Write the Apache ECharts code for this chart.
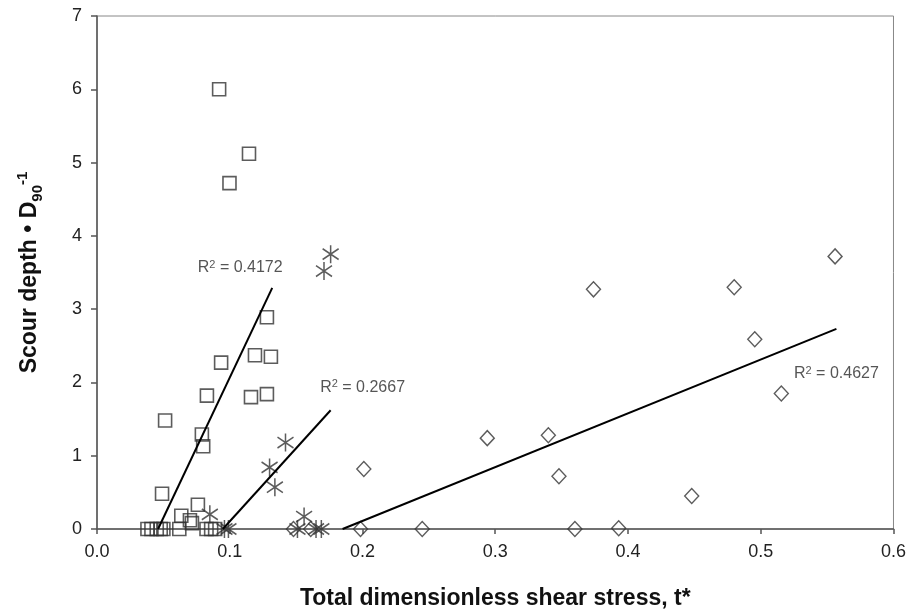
<!DOCTYPE html>
<html><head><meta charset="utf-8">
<script src="https://cdn.jsdelivr.net/npm/echarts@6/dist/echarts.min.js"></script>
<style>html,body{margin:0;padding:0;background:#fff}#c{width:909px;height:615px}</style>
</head><body><div id="c"></div>
<script>
// Squares group
const squaresX = [0.092,0.1145,0.0998,0.128,0.119,0.131,0.0935,0.0828,0.116,0.128,0.0513,0.079,0.080,0.049,0.076,0.0635,0.070,0.0715,0.038,0.041,0.045,0.048,0.050,0.062,0.0825,0.086,0.089];
const squaresY = [6.00,5.12,4.72,2.89,2.37,2.35,2.27,1.82,1.80,1.84,1.48,1.29,1.13,0.48,0.33,0.18,0.12,0.08,0,0,0,0,0,0,0,0,0];
// Asterisk group
const starsX = [0.085,0.096,0.099,0.130,0.134,0.142,0.171,0.176,0.156,0.151,0.165,0.169];
const starsY = [0.20,0,0,0.84,0.57,1.18,3.52,3.75,0.17,0,0,0];
// Diamond group
const diamondsX = [0.148,0.161,0.1985,0.201,0.245,0.294,0.340,0.348,0.360,0.374,0.393,0.448,0.480,0.4955,0.5155,0.556];
const diamondsY = [0,0,0,0.82,0,1.24,1.28,0.72,0,3.27,0.01,0.45,3.30,2.59,1.85,3.72];
// Trend lines (endpoints)
const trend1X = [0.046,0.132], trend1Y = [0,3.29];
const trend2X = [0.0948,0.176], trend2Y = [0,1.62];
const trend3X = [0.185,0.557], trend3Y = [0,2.73];
const r2Labels = ['R{sup|2} = 0.4172','R{sup|2} = 0.2667','R{sup|2} = 0.4627'];
const xTicks = [0,0.1,0.2,0.3,0.4,0.5,0.6];
const yTicks = [0,1,2,3,4,5,6,7];

const zip = (a,b)=>a.map((v,i)=>[v,b[i]]);
const ink = '#333';
const font = 'Liberation Sans, Arial, sans-serif';

function trend(xs, ys){
  return {type:'line', data:zip(xs, ys), symbol:'none', lineStyle:{color:'#000', width:2}, z:3, silent:true};
}
function r2(xs, ys, text, offset){
  return {type:'scatter', data:[[xs[1], ys[1]]], symbol:'circle', symbolSize:1,
    itemStyle:{color:'rgba(0,0,0,0)'}, z:4, silent:true,
    label:{show:true, position:'inside', formatter:text, offset:offset, color:'#2a2a2a', fontSize:16, fontFamily:font,
      rich:{sup:{fontSize:11, color:'#2a2a2a', fontFamily:font, verticalAlign:'top', lineHeight:17, padding:[0,0,6,0]}}}};
}

const chart = echarts.init(document.getElementById('c'), null, {renderer:'canvas'});
chart.setOption({
  animation:false,
  backgroundColor:'#fff',
  grid:{left:97, right:12, top:16, bottom:85, show:true, borderColor:'#888', borderWidth:1, backgroundColor:'transparent'},
  xAxis:{type:'value', min:0, max:0.6, interval:0.1,
    axisLine:{show:true, onZero:false, lineStyle:{color:'#555', width:1.5}},
    axisTick:{show:true, inside:false, length:5, lineStyle:{color:'#555', width:1.5}},
    splitLine:{show:false},
    axisLabel:{color:'#222', fontSize:18, fontFamily:font, margin:14, formatter:v=>v.toFixed(1)},
    name:'Total dimensionless shear stress, t*', nameLocation:'middle', nameGap:58,
    nameTextStyle:{color:'#111', fontSize:23, fontWeight:'bold', fontFamily:font}
  },
  yAxis:{type:'value', min:0, max:7, interval:1,
    axisLine:{show:true, onZero:false, lineStyle:{color:'#555', width:1.5}},
    axisTick:{show:true, inside:false, length:6, lineStyle:{color:'#555', width:1.5}},
    splitLine:{show:false},
    axisLabel:{color:'#222', fontSize:18, fontFamily:font, margin:15},
    name:'Scour depth \u2022 D{sub|90}{sup|-1}', nameLocation:'middle', nameGap:52, nameRotate:90,
    nameTextStyle:{color:'#111', fontSize:23, fontWeight:'bold', fontFamily:font, lineHeight:30,
      rich:{
        sub:{fontSize:15, fontWeight:'bold', fontFamily:font, color:'#111', verticalAlign:'bottom', lineHeight:30},
        sup:{fontSize:15, fontWeight:'bold', fontFamily:font, color:'#111', verticalAlign:'top', lineHeight:30}
      }}
  },
  series:[
    {type:'scatter', data:zip(squaresX,squaresY), symbol:'rect', symbolSize:13,
     itemStyle:{color:'rgba(0,0,0,0)', borderColor:ink, borderWidth:1.6}, z:2},
    {type:'scatter', data:zip(starsX,starsY), symbol:'path://M0,-10 L0,10 M-9,-6 L9,6 M-9,6 L9,-6', symbolSize:[16,18],
     itemStyle:{color:'rgba(0,0,0,0)', borderColor:ink, borderWidth:1.6}, z:2},
    {type:'scatter', data:zip(diamondsX,diamondsY), symbol:'diamond', symbolSize:[14,15],
     itemStyle:{color:'rgba(0,0,0,0)', borderColor:ink, borderWidth:1.4}, z:2},
    trend(trend1X, trend1Y),
    trend(trend2X, trend2Y),
    trend(trend3X, trend3Y),
    r2(trend1X, trend1Y, r2Labels[0], [-32,-20]),
    r2(trend2X, trend2Y, r2Labels[1], [32,-23]),
    r2(trend3X, trend3Y, r2Labels[2], [0,45])
  ]
});
</script></body></html>
